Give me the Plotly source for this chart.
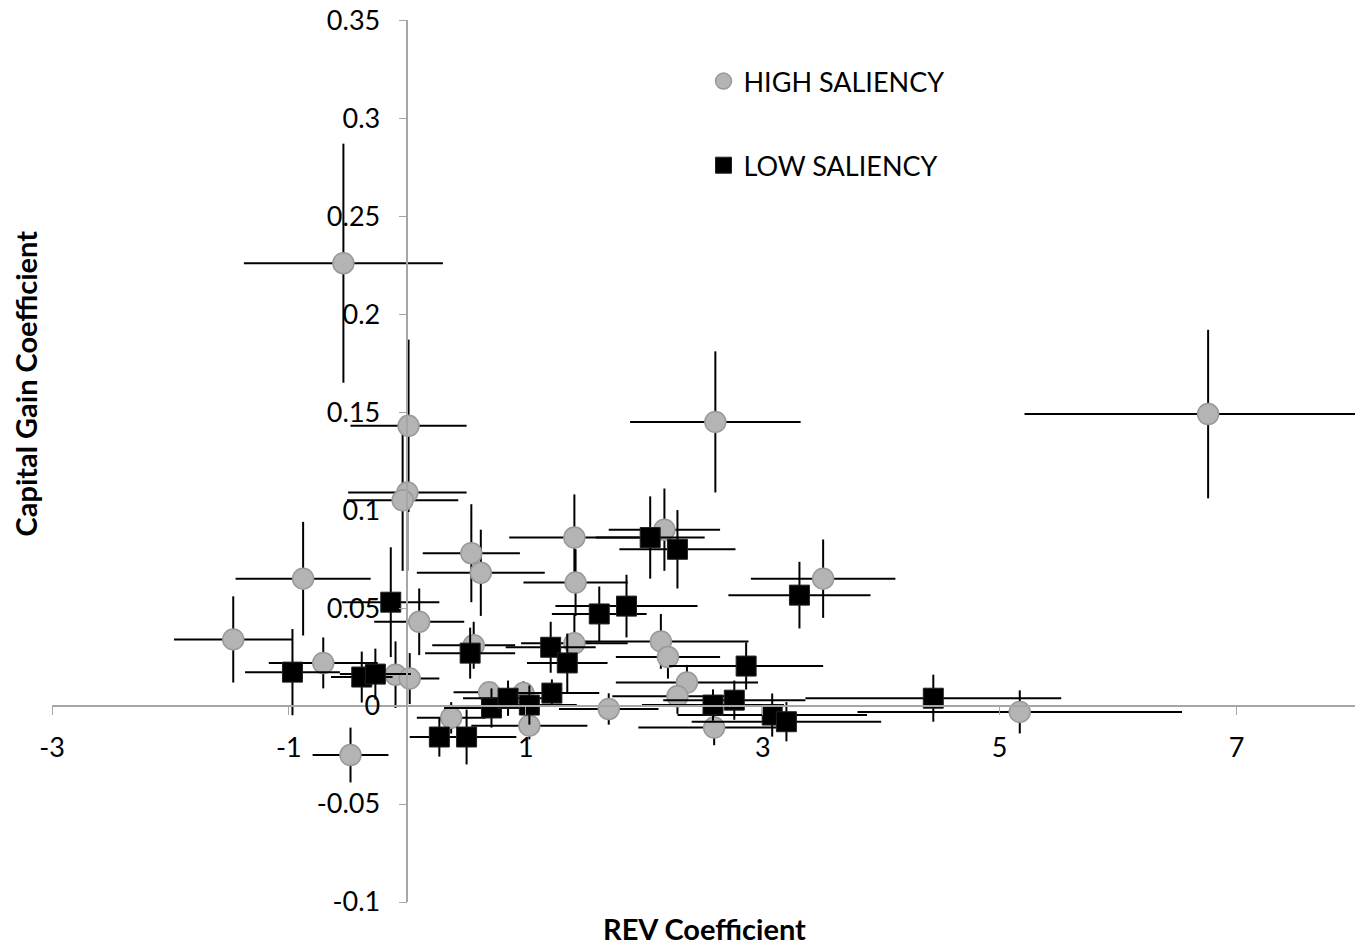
import plotly.graph_objects as go

# HIGH SALIENCY (gray circles)
high_x = [-0.54, 0.01, 0.00, -0.04, 2.60, 6.76, -0.88, -1.47, -0.71, -0.48, 0.10, -0.10, 0.02,
          0.54, 0.62, 1.41, 1.42, 2.17, 3.51, 1.41, 2.14, 2.20, 2.36, 2.28, 1.70, 2.59, 5.17,
          0.37, 0.69, 1.03, 0.98, 0.56]
high_y = [0.226, 0.143, 0.109, 0.105, 0.145, 0.149, 0.065, 0.034, 0.022, -0.025, 0.043, 0.016, 0.014,
          0.078, 0.068, 0.086, 0.063, 0.090, 0.065, 0.032, 0.033, 0.025, 0.012, 0.005, -0.0015, -0.011, -0.003,
          -0.006, 0.007, -0.010, 0.0066, 0.031]
high_ex = [0.84, 0.49, 0.50, 0.47, 0.72, 1.55, 0.57, 0.50, 0.46, 0.32, 0.38, 0.20, 0.25,
           0.41, 0.54, 0.55, 0.44, 0.47, 0.61, 0.45, 0.74, 0.44, 0.60, 0.55, 0.42, 0.64, 1.37,
           0.29, 0.30, 0.49, 0.35, 0.35]
high_ey = [0.061, 0.044, 0.040, 0.036, 0.036, 0.043, 0.029, 0.022, 0.013, 0.014, 0.017, 0.017, 0.013,
           0.025, 0.022, 0.022, 0.017, 0.021, 0.020, 0.015, 0.014, 0.011, 0.009, 0.009, 0.008, 0.009, 0.011,
           0.008, 0.005, 0.007, 0.006, 0.012]

# LOW SALIENCY (black squares)
low_x = [-0.14, -0.97, -0.385, -0.27, 0.53, 1.21, 1.35, 1.62, 1.85, 2.05, 2.28, 3.31, 2.86, 4.44,
         2.58, 2.76, 3.08, 3.20, 0.27, 0.50, 0.71, 0.85, 1.03, 1.22]
low_y = [0.053, 0.0173, 0.0148, 0.0163, 0.027, 0.030, 0.022, 0.047, 0.051, 0.086, 0.080, 0.0566, 0.0204, 0.004,
         0.0005, 0.003, -0.0046, -0.008, -0.0158, -0.0158, -0.001, 0.004, 0.0005, 0.0066]
low_ex = [0.41, 0.40, 0.26, 0.30, 0.38, 0.38, 0.34, 0.40, 0.60, 0.46, 0.49, 0.60, 0.65, 1.08,
          0.60, 0.60, 0.80, 0.80, 0.25, 0.42, 0.40, 0.38, 0.40, 0.40]
low_ey = [0.028, 0.022, 0.013, 0.013, 0.013, 0.013, 0.015, 0.014, 0.016, 0.021, 0.020, 0.017, 0.012, 0.012,
          0.008, 0.010, 0.011, 0.010, 0.010, 0.014, 0.010, 0.009, 0.010, 0.007]

x_ticks = [-3, -1, 1, 3, 5, 7]
x_tick_labels = ["-3", "-1", "1", "3", "5", "7"]
y_ticks = [-0.1, -0.05, 0, 0.05, 0.1, 0.15, 0.2, 0.25, 0.3, 0.35]
y_tick_labels = ["-0.1", "-0.05", "0", "0.05", "0.1", "0.15", "0.2", "0.25", "0.3", "0.35"]

x_range = [-3, 8]
y_range = [-0.1, 0.3501]

FONT = "Lato, 'Open Sans', sans-serif"

fig = go.Figure()
fig.add_trace(go.Scatter(
    x=high_x, y=high_y, mode="markers", name="HIGH SALIENCY",
    marker=dict(symbol="circle", size=21, color="#b4b4b4", line=dict(color="#999999", width=1.5)),
    error_x=dict(type="data", array=high_ex, color="black", thickness=2, width=0),
    error_y=dict(type="data", array=high_ey, color="black", thickness=2, width=0),
    legendgroup="a",
))
fig.add_trace(go.Scatter(
    x=low_x, y=low_y, mode="markers", name="LOW SALIENCY",
    marker=dict(symbol="square", size=20, color="black", line=dict(color="#222222", width=1)),
    error_x=dict(type="data", array=low_ex, color="black", thickness=2, width=0),
    error_y=dict(type="data", array=low_ey, color="black", thickness=2, width=0),
    legendgroup="b",
))

x_pos = (0 - y_range[0]) / (y_range[1] - y_range[0])
y_pos = (0 - x_range[0]) / (x_range[1] - x_range[0])

fig.update_layout(
    width=1362, height=946,
    margin=dict(l=52, r=7, t=20, b=44, autoexpand=False),
    paper_bgcolor="white", plot_bgcolor="white",
    font=dict(family=FONT, size=27, color="black"),
    showlegend=True,
    legend=dict(x=0.5, y=0.958, xanchor="left", yanchor="top",
                font=dict(size=27, color="black"), tracegroupgap=46,
                bgcolor="rgba(0,0,0,0)", itemwidth=30),
    xaxis=dict(range=x_range, tickvals=x_ticks, ticktext=x_tick_labels,
               anchor="free", position=x_pos, showline=True, linecolor="#a6a6a6", linewidth=1.5,
               ticks="outside", ticklen=8, tickcolor="#a6a6a6", showgrid=False, zeroline=False,
               automargin=False,
               ticklabelstandoff=10, ticklabeloverflow="allow", tickfont=dict(size=27, family=FONT)),
    yaxis=dict(range=y_range, tickvals=y_ticks, ticktext=y_tick_labels,
               anchor="free", position=y_pos, showline=True, linecolor="#a6a6a6", linewidth=1.5,
               ticks="outside", ticklen=8, tickcolor="#a6a6a6", showgrid=False, zeroline=False,
               automargin=False,
               ticklabelstandoff=13, ticklabeloverflow="allow", tickfont=dict(size=27, family=FONT)),
    annotations=[
        dict(text="<b>REV Coefficient</b>", xref="paper", yref="paper", x=0.5004, y=-0.0295,
             xanchor="center", yanchor="middle", showarrow=False, font=dict(size=29, family=FONT)),
        dict(text="<b>Capital Gain Coefficient</b>", xref="paper", yref="paper", x=-0.0207, y=0.588,
             xanchor="center", yanchor="middle", showarrow=False, textangle=-90,
             font=dict(size=29, family=FONT)),
    ],
)

fig.write_html("out.html", config={"displayModeBar": False},
               post_script="document.body.style.margin='0';")
